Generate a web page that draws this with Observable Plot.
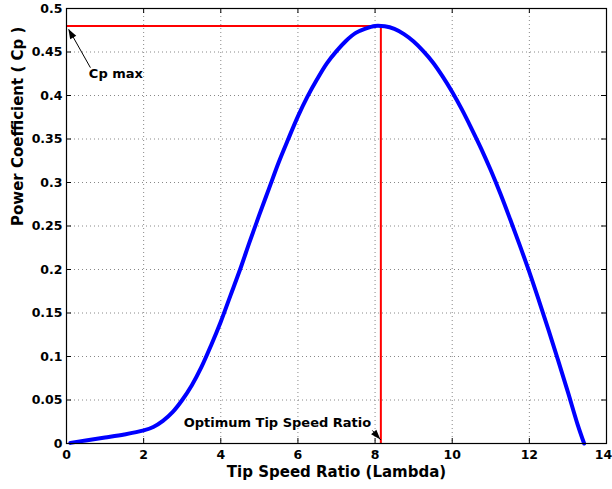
<!DOCTYPE html>
<html>
<head>
<meta charset="utf-8">
<script src="https://cdn.jsdelivr.net/npm/d3@7"></script>
<script src="https://cdn.jsdelivr.net/npm/@observablehq/plot@0.6"></script>
<style>
  html, body { margin: 0; padding: 0; background: #fff; }
  #chart svg { display: block; }
</style>
</head>
<body>
<div id="chart"></div>
<script>
// Tip speed ratio (lambda) and power coefficient (Cp)
const lambda = [0.1, 0.5, 1.0, 1.5, 2.0, 2.25, 2.5, 2.75, 3.0, 3.25, 3.5, 3.75, 4.0, 4.25, 4.5, 4.75, 5.0, 5.25, 5.5, 5.75, 6.0, 6.25, 6.5, 6.75, 7.0, 7.25, 7.5, 7.75, 8.0, 8.25, 8.5, 8.75, 9.0, 9.25, 9.5, 9.75, 10.0, 10.25, 10.5, 10.75, 11.0, 11.25, 11.5, 11.75, 12.0, 12.25, 12.5, 12.75, 13.0, 13.25, 13.42];
const cp =     [0.0007, 0.0035, 0.0068, 0.0103, 0.015, 0.019, 0.026, 0.036, 0.050, 0.067, 0.088, 0.113, 0.140, 0.170, 0.200, 0.232, 0.263, 0.293, 0.323, 0.350, 0.376, 0.399, 0.419, 0.437, 0.451, 0.463, 0.472, 0.477, 0.480, 0.4795, 0.4765, 0.4705, 0.462, 0.451, 0.438, 0.422, 0.404, 0.384, 0.362, 0.339, 0.314, 0.287, 0.258, 0.228, 0.197, 0.164, 0.130, 0.095, 0.059, 0.022, 0.000];

const cpMax = 0.48;
const lambdaOpt = 8.15;

const xTicks = [0, 2, 4, 6, 8, 10, 12, 14];
const yTicks = [0, 0.05, 0.1, 0.15, 0.2, 0.25, 0.3, 0.35, 0.4, 0.45, 0.5];

// annotations (data units): label, text anchor point
const annLabels = ["Cp max", "Optimum Tip Speed Ratio"];
const annTextX = [0.58, 7.9];
const annTextY = [0.425, 0.024];
// arrows: tail (x1,y1) -> tip (x2,y2)
const arrowX1 = [0.62, 7.93];
const arrowY1 = [0.432, 0.015];
const arrowX2 = [0.06, 8.15];
const arrowY2 = [0.476, 0.004];

const curve = lambda.map((l, i) => ({l, cp: cp[i]}));
const arrows = arrowX1.map((x1, i) => ({x1, y1: arrowY1[i], x2: arrowX2[i], y2: arrowY2[i]}));

const FONT = "DejaVu Sans, Verdana, sans-serif";
const innerW = 612 - 66 - 6;
const innerH = 489 - 8 - 46;

// filled arrow heads drawn through Plot's own scales
function arrowHeads(index, scales) {
  const s = [...arguments].find(a => a && typeof a.x === "function" && typeof a.y === "function");
  const g = document.createElementNS("http://www.w3.org/2000/svg", "g");
  arrows.forEach(a => {
    const tx = s.x(a.x2), ty = s.y(a.y2);
    const bx = s.x(a.x1), by = s.y(a.y1);
    const dx = bx - tx, dy = by - ty, len = Math.hypot(dx, dy);
    const ux = dx / len, uy = dy / len;
    const L = 10, W = 3.5;
    const cx = tx + ux * L, cy = ty + uy * L;
    const p = `M${tx},${ty}L${cx - uy * W},${cy + ux * W}L${cx + uy * W},${cy - ux * W}Z`;
    const path = document.createElementNS("http://www.w3.org/2000/svg", "path");
    path.setAttribute("d", p);
    path.setAttribute("fill", "#000");
    g.appendChild(path);
  });
  return g;
}

const chart = Plot.plot({
  width: 612,
  height: 489,
  marginLeft: 66,
  marginRight: 6,
  marginTop: 8,
  marginBottom: 46,
  style: {fontFamily: FONT, fontWeight: "bold", fontSize: "12px", background: "#fff", color: "#000"},
  x: {domain: [0, 14]},
  y: {domain: [0, 0.5]},
  marks: [
    Plot.gridX(xTicks.slice(1, -1), {stroke: "#888", strokeOpacity: 1, strokeDasharray: "1,3", strokeWidth: 1}),
    Plot.gridY(yTicks.slice(1, -1), {stroke: "#888", strokeOpacity: 1, strokeDasharray: "1,3", strokeWidth: 1}),
    // inward tick marks on all four sides
    Plot.tickX(xTicks, {x: d => d, insetTop: innerH - 5, stroke: "#000"}),
    Plot.tickX(xTicks, {x: d => d, insetBottom: innerH - 5, stroke: "#000"}),
    Plot.tickY(yTicks, {y: d => d, insetRight: innerW - 5, stroke: "#000"}),
    Plot.tickY(yTicks, {y: d => d, insetLeft: innerW - 5, stroke: "#000"}),
    Plot.axisX(xTicks.slice(0, -1), {tickSize: 0, tickPadding: 7, fontSize: 12.5, fontWeight: "bold", label: null}),
    Plot.axisX(xTicks.slice(-1), {tickSize: 0, tickPadding: 7, dx: -3, fontSize: 12.5, fontWeight: "bold", label: null}),
    Plot.axisY(yTicks, {tickSize: 0, tickPadding: 4, fontSize: 12.5, fontWeight: "bold", label: null, tickFormat: d => String(d)}),
    Plot.ruleY([cpMax], {x1: 0, x2: lambdaOpt, stroke: "#ff0000", strokeWidth: 2}),
    Plot.ruleX([lambdaOpt], {y1: 0, y2: cpMax, stroke: "#ff0000", strokeWidth: 2}),
    Plot.line(curve, {x: "l", y: "cp", stroke: "#0000ff", strokeWidth: 4, curve: "catmull-rom"}),
    Plot.link(arrows, {x1: "x1", y1: "y1", x2: "x2", y2: "y2", stroke: "#000", strokeWidth: 1}),
    arrowHeads,
    Plot.text([annLabels[0]], {x: annTextX[0], y: annTextY[0], textAnchor: "start", fontSize: 13, fontWeight: "bold", fill: "#000"}),
    Plot.text([annLabels[1]], {x: annTextX[1], y: annTextY[1], textAnchor: "end", fontSize: 13, fontWeight: "bold", fill: "#000"}),
    Plot.frame({stroke: "#000", strokeWidth: 1.2}),
    Plot.text(["Tip Speed Ratio (Lambda)"], {frameAnchor: "bottom", dy: 33, fontSize: 15, fontWeight: "bold", fill: "#000"}),
    Plot.text(["Power Coefficient ( Cp )"], {frameAnchor: "left", dx: -48, rotate: -90, fontSize: 15, fontWeight: "bold", fill: "#000"})
  ]
});
document.getElementById("chart").appendChild(chart);
</script>
</body>
</html>
